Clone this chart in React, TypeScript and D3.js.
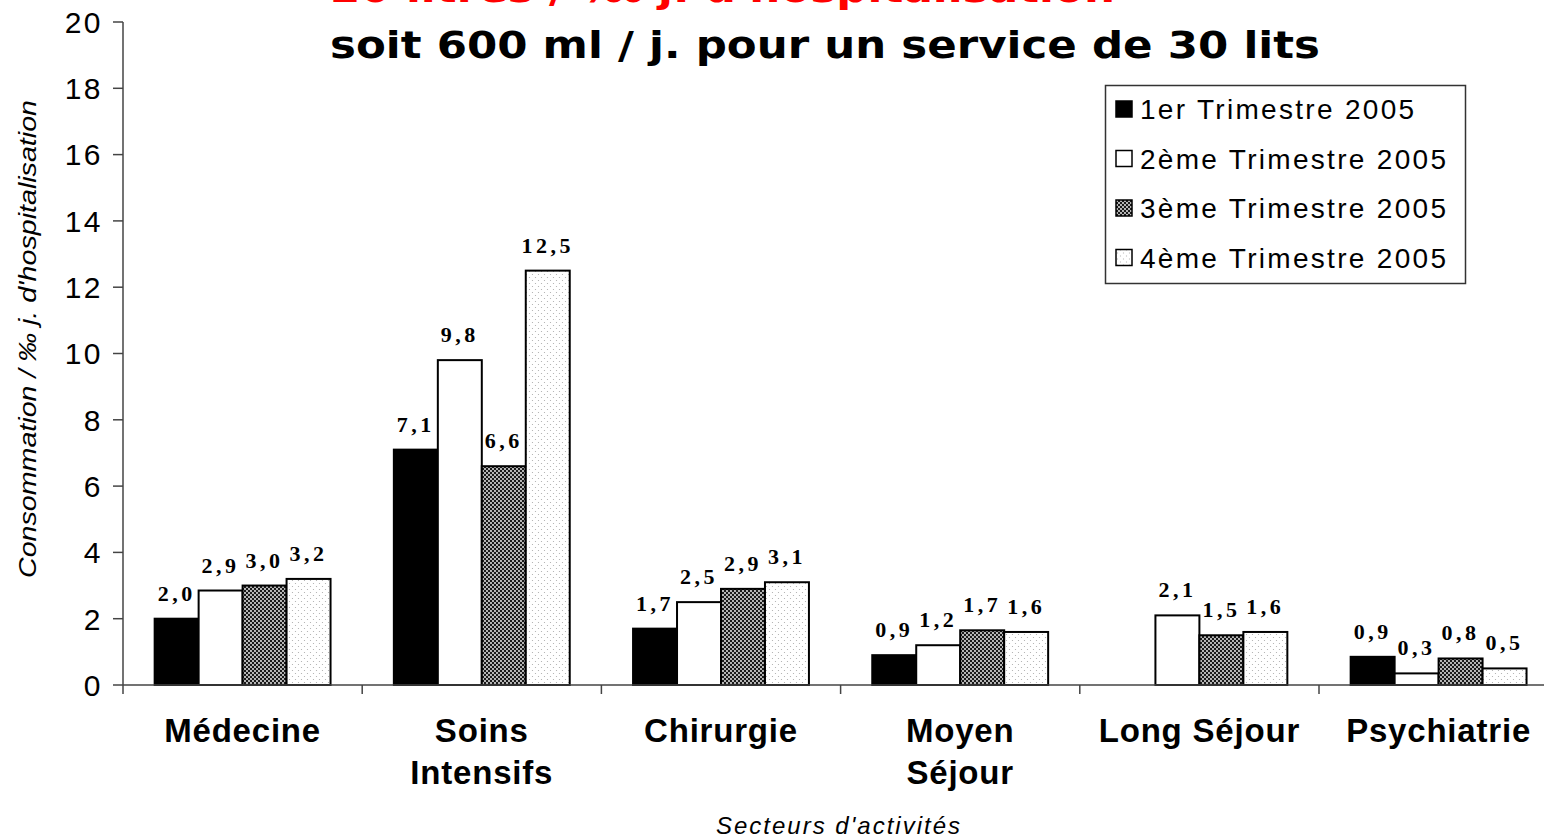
import React from 'react';
import * as d3 from 'd3';

const categories = [['Médecine'], ['Soins', 'Intensifs'], ['Chirurgie'], ['Moyen', 'Séjour'], ['Long Séjour'], ['Psychiatrie']];
const seriesNames = ['1er Trimestre 2005', '2ème Trimestre 2005', '3ème Trimestre 2005', '4ème Trimestre 2005'];
const q1 = [2.0, 7.1, 1.7, 0.9, 0, 0.85];
const q2 = [2.85, 9.8, 2.5, 1.2, 2.1, 0.35];
const q3 = [3.0, 6.6, 2.9, 1.65, 1.5, 0.8];
const q4 = [3.2, 12.5, 3.1, 1.6, 1.6, 0.5];
const q1Labels = ['2,0', '7,1', '1,7', '0,9', '', '0,9'];
const q2Labels = ['2,9', '9,8', '2,5', '1,2', '2,1', '0,3'];
const q3Labels = ['3,0', '6,6', '2,9', '1,7', '1,5', '0,8'];
const q4Labels = ['3,2', '12,5', '3,1', '1,6', '1,6', '0,5'];
const yTicks = [0, 2, 4, 6, 8, 10, 12, 14, 16, 18, 20];

const W = 1544;
const H = 838;
const fills = ['#000', '#fff', 'url(#checker)', 'url(#dots)'];
const sans = '"Liberation Sans", Arial, sans-serif';

const App = () => {
  const series = [q1, q2, q3, q4];
  const labels = [q1Labels, q2Labels, q3Labels, q4Labels];

  const x = d3.scaleBand<number>()
    .domain(d3.range(categories.length))
    .range([123, 123 + 6 * 239.2])
    .paddingInner(0);

  const xs = d3.scaleBand<number>()
    .domain(d3.range(4))
    .range([0, x.bandwidth()])
    .paddingInner(0)
    .paddingOuter(0.72);

  const y = d3.scaleLinear().domain([0, 20]).range([685, 22]);

  return (
    <svg width={W} height={H} style={{ position: 'absolute', left: 0, top: 0, background: '#fff' }}>
      <defs>
        <pattern id="checker" width="4" height="4" patternUnits="userSpaceOnUse">
          <rect width="4" height="4" fill="#1a1a1a" />
          <circle cx="1" cy="1" r="0.9" fill="#fff" />
          <circle cx="3" cy="3" r="0.9" fill="#fff" />
        </pattern>
        <pattern id="dots" width="6" height="6" patternUnits="userSpaceOnUse">
          <rect width="6" height="6" fill="#fff" />
          <circle cx="1.5" cy="1.5" r="0.6" fill="#aaa" />
          <circle cx="4.5" cy="4.5" r="0.6" fill="#aaa" />
        </pattern>
      </defs>

      {/* titles */}
      <text x={330} y={2} fill="#ff0000" fontFamily='"DejaVu Sans", sans-serif' fontWeight="bold" fontSize={38}
        textLength={785} lengthAdjust="spacingAndGlyphs">20 litres / ‰ j. d'hospitalisation</text>
      <text x={330} y={58} fill="#000" fontFamily='"DejaVu Sans", sans-serif' fontWeight="bold" fontSize={38}
        textLength={990} lengthAdjust="spacingAndGlyphs">soit 600 ml / j. pour un service de 30 lits</text>

      {/* y axis */}
      <line x1={123} x2={123} y1={y(20)} y2={y(0)} stroke="#444" strokeWidth={1.5} />
      {yTicks.map(t => (
        <g key={t}>
          <line x1={113} x2={123} y1={y(t)} y2={y(t)} stroke="#444" strokeWidth={1.5} />
          <text x={103} y={y(t)} dy="0.36em" textAnchor="end" fontFamily={sans} fontSize={30} letterSpacing={2.5}>{t}</text>
        </g>
      ))}
      <text transform={`translate(36,${339}) rotate(-90)`} textAnchor="middle" fontFamily={sans}
        fontStyle="italic" fontSize={23} textLength={478} lengthAdjust="spacingAndGlyphs">
        Consommation / ‰ j. d'hospitalisation
      </text>

      {/* bars */}
      {categories.map((c, i) => (
        <g key={i}>
          {series.map((s, k) => s[i] > 0 && (
            <rect key={k} x={x(i)! + xs(k)!} y={y(s[i])} width={xs.bandwidth()} height={y(0) - y(s[i])}
              fill={fills[k]} stroke="#000" strokeWidth={2} />
          ))}
          {labels.map((l, k) => l[i] && (
            <text key={'l' + k} x={x(i)! + xs(k)! + xs.bandwidth() / 2} y={y(series[k][i]) - 18}
              textAnchor="middle" fontFamily='"Liberation Serif", "Times New Roman", serif' fontWeight="bold"
              fontSize={22} letterSpacing={3.5}>{l[i]}</text>
          ))}
        </g>
      ))}

      {/* x axis */}
      <line x1={123} x2={W} y1={y(0)} y2={y(0)} stroke="#444" strokeWidth={1.5} />
      {d3.range(categories.length + 1).map(i => (
        <line key={i} x1={123 + i * x.step()} x2={123 + i * x.step()} y1={y(0)} y2={y(0) + 9} stroke="#444" strokeWidth={1.5} />
      ))}
      {categories.map((c, i) => c.map((line, j) => (
        <text key={i + '-' + j} x={x(i)! + x.bandwidth() / 2} y={742 + j * 42} textAnchor="middle"
          fontFamily={sans} fontWeight="bold" fontSize={33} letterSpacing={0.8}>{line}</text>
      )))}
      <text x={839} y={834} textAnchor="middle" fontFamily={sans} fontStyle="italic" fontSize={24} letterSpacing={2}>Secteurs d'activités</text>

      {/* legend */}
      <rect x={1105.5} y={85.5} width={360} height={198} fill="#fff" stroke="#333" strokeWidth={1.5} />
      {seriesNames.map((n, k) => (
        <g key={n} transform={`translate(0,${109 + k * 49.5})`}>
          <rect x={1116} y={-8} width={16} height={16} fill={fills[k]} stroke="#000" strokeWidth={1.5} />
          <text x={1140} y={0} dy="0.36em" fontFamily={sans} fontSize={28} letterSpacing={2.3}>{n}</text>
        </g>
      ))}
    </svg>
  );
};

export default App;
